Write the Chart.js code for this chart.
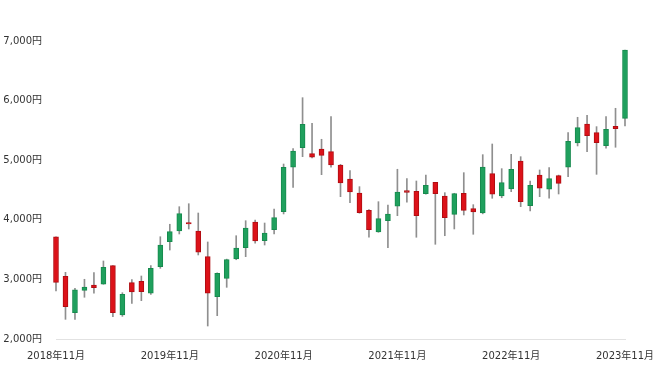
<!DOCTYPE html>
<html>
<head>
<meta charset="utf-8">
<script src="https://cdn.jsdelivr.net/npm/chart.js@4"></script>
<style>
  html, body { margin: 0; padding: 0; background: #fff; }
  #wrap { width: 660px; height: 371px; }
</style>
</head>
<body>
<div id="wrap"><canvas id="kabuka"></canvas></div>
<script>
const months = [
  '2018年11月','2018年12月','2019年1月','2019年2月','2019年3月','2019年4月','2019年5月','2019年6月','2019年7月','2019年8月','2019年9月','2019年10月',
  '2019年11月','2019年12月','2020年1月','2020年2月','2020年3月','2020年4月','2020年5月','2020年6月','2020年7月','2020年8月','2020年9月','2020年10月',
  '2020年11月','2020年12月','2021年1月','2021年2月','2021年3月','2021年4月','2021年5月','2021年6月','2021年7月','2021年8月','2021年9月','2021年10月',
  '2021年11月','2021年12月','2022年1月','2022年2月','2022年3月','2022年4月','2022年5月','2022年6月','2022年7月','2022年8月','2022年9月','2022年10月',
  '2022年11月','2022年12月','2023年1月','2023年2月','2023年3月','2023年4月','2023年5月','2023年6月','2023年7月','2023年8月','2023年9月','2023年10月',
  '2023年11月'
];

const opens  = [3716,3052,2441,2817,2906,2918,3230,2403,2945,2968,2767,3213,
                3633,3812,3952,3812,3381,2710,3018,3342,3532,3963,3650,3834,
                4136,4881,5210,5109,5188,5143,4920,4685,4450,4159,3795,3985,
                4227,4489,4478,4438,4629,4400,4092,4445,4187,4114,4774,4400,
                4517,4987,4237,4752,4512,4741,4881,5289,5608,5462,5244,5569,
                5703];
const highs  = [3716,3119,2851,3002,3113,3309,3230,2777,2995,3057,3230,3716,
                3925,4220,4270,4114,3628,3110,3340,3733,3985,3996,3946,4181,
                4936,5193,6049,5619,5351,5730,4930,4825,4556,4170,4304,4249,
                4848,4690,4651,4752,4629,4455,4445,4791,4254,5093,5272,4858,
                5099,5059,4651,4836,4875,4750,5462,5720,5754,5563,5730,5871,
                6849];
const lows   = [2805,2330,2330,2700,2767,2918,2374,2380,2599,2643,2750,3186,
                3493,3762,3846,3410,2218,2391,2867,3330,3381,3606,3577,3762,
                4098,4545,5059,5040,4757,4881,4388,4287,4110,3707,3790,3532,
                4069,4294,3707,4430,3589,3733,3846,4081,3757,4100,4361,4370,
                4472,4220,4148,4388,4361,4433,4724,5239,5143,4763,5200,5217,
                5574];
const closes = [2951,2542,2827,2873,2861,3203,2441,2750,2789,2794,3186,3577,
                3801,4103,3930,3455,2767,3102,3331,3527,3863,3644,3779,4036,
                4881,5155,5603,5049,5082,4920,4618,4467,4119,3834,4019,4098,
                4467,4461,4069,4579,4438,4036,4438,4159,4131,4886,4428,4623,
                4848,4304,4579,4529,4690,4612,5317,5546,5411,5294,5519,5529,
                6849];

const yTicks = [2000, 3000, 4000, 5000, 6000, 7000];

const upFill = '#1fa05d', upLine = '#178a4e';
const downFill = '#dc1219', downLine = '#b00d12';

const isUp = closes.map((c, i) => c >= opens[i]);
const fuente = { family: '"DejaVu Sans", "Noto Sans CJK JP", sans-serif', size: 10 };

const ctx = document.getElementById('kabuka').getContext('2d');
new Chart(ctx, {
  type: 'bar',
  data: {
    labels: months,
    datasets: [
      {
        label: 'body',
        data: opens.map((o, i) => [o, closes[i]]),
        backgroundColor: isUp.map(u => u ? upFill : downFill),
        borderColor: isUp.map(u => u ? upLine : downLine),
        borderWidth: 1,
        borderSkipped: false,
        barThickness: 5,
        grouped: false,
        clip: false,
        order: 0
      },
      {
        label: 'wick',
        data: lows.map((l, i) => [l, highs[i]]),
        backgroundColor: '#8f8f8f',
        borderWidth: 0,
        barThickness: 1,
        grouped: false,
        clip: false,
        order: 1
      }
    ]
  },
  options: {
    responsive: true,
    maintainAspectRatio: false,
    animation: false,
    layout: { padding: { top: 41, right: 35, bottom: 0, left: 0 } },
    plugins: { legend: { display: false }, tooltip: { enabled: false } },
    scales: {
      x: {
        offset: false,
        grid: { display: false, drawTicks: false },
        border: { display: true, color: '#e2e2e2', width: 1 },
        afterFit: function (scale) {
          scale.height = 32;
          scale.paddingLeft = 0;
          scale.paddingRight = 0;
        },
        ticks: {
          autoSkip: false,
          maxRotation: 0,
          padding: 11,
          color: '#333',
          font: fuente,
          callback: function (v, i) { return i % 12 === 0 ? months[i] : ''; }
        }
      },
      y: {
        min: yTicks[0],
        max: yTicks[yTicks.length - 1],
        grid: { display: false, drawTicks: false },
        border: { display: false },
        afterFit: function (scale) { scale.width = 56; },
        afterBuildTicks: function (scale) { scale.ticks = yTicks.map(v => ({ value: v })); },
        ticks: {
          padding: 14,
          color: '#333',
          font: fuente,
          callback: v => v.toLocaleString('en-US') + '円'
        }
      }
    }
  }
});
</script>
</body>
</html>
